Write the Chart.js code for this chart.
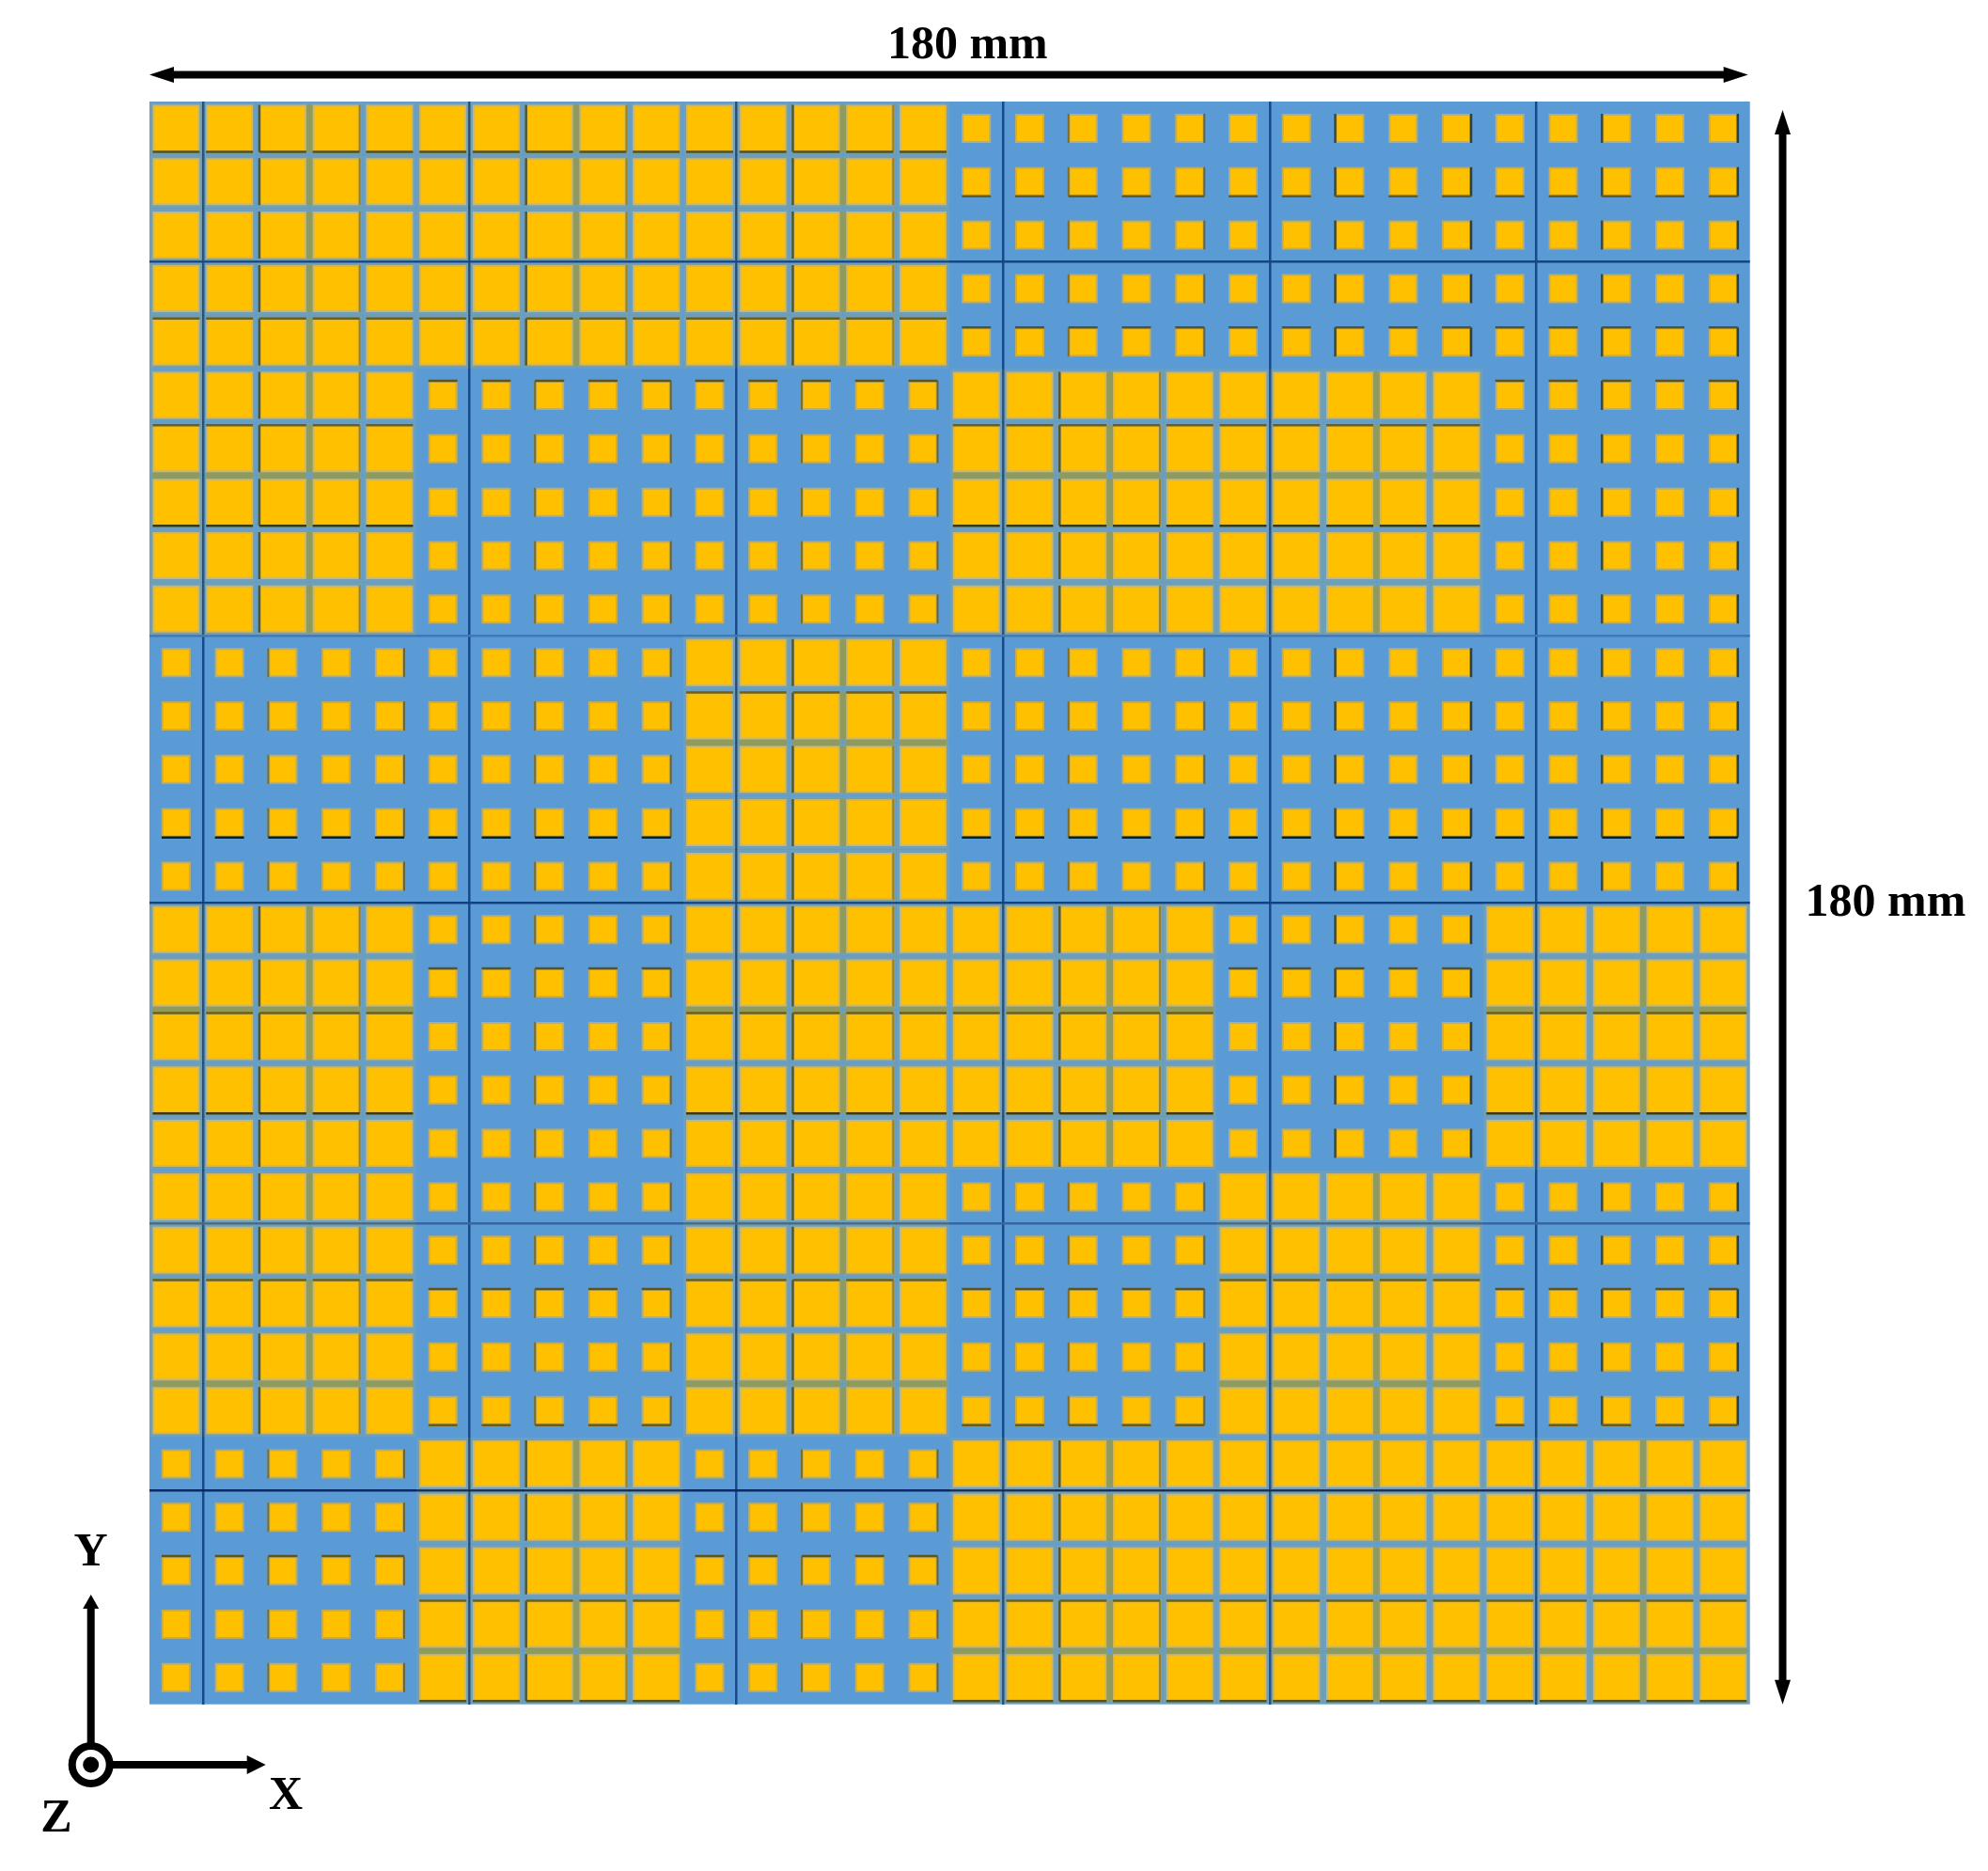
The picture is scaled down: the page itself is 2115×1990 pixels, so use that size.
<!DOCTYPE html>
<html>
<head>
<meta charset="utf-8">
<title>Coding metasurface layout</title>
<style>
  html, body { margin: 0; padding: 0; background: #fff; }
  canvas { display: block; }
</style>
<script src="https://cdn.jsdelivr.net/npm/chart.js@4/dist/chart.umd.min.js"></script>
</head>
<body>
<canvas id="layoutChart" width="2115" height="1990"></canvas>
<script>
// 1 = large patch, 0 = small patch, top row first
const cellRows = [
  '111111111111111000000000000000',
  '111111111111111000000000000000',
  '111111111111111000000000000000',
  '111111111111111000000000000000',
  '111111111111111000000000000000',
  '111110000000000111111111100000',
  '111110000000000111111111100000',
  '111110000000000111111111100000',
  '111110000000000111111111100000',
  '111110000000000111111111100000',
  '000000000011111000000000000000',
  '000000000011111000000000000000',
  '000000000011111000000000000000',
  '000000000011111000000000000000',
  '000000000011111000000000000000',
  '111110000011111111110000011111',
  '111110000011111111110000011111',
  '111110000011111111110000011111',
  '111110000011111111110000011111',
  '111110000011111111110000011111',
  '111110000011111000001111100000',
  '111110000011111000001111100000',
  '111110000011111000001111100000',
  '111110000011111000001111100000',
  '111110000011111000001111100000',
  '000001111100000111111111111111',
  '000001111100000111111111111111',
  '000001111100000111111111111111',
  '000001111100000111111111111111',
  '000001111100000111111111111111'
];

const cellPitch = 6; // mm
const boardSize = 180; // mm

const gridLinesX = [6, 36, 66, 96, 126, 156];
const gridLinesY = [18, 60, 90, 126, 156];
const gridColorsY = ['#17457f', '#3f78b5', '#124080', '#34689f', '#0a2a68'];

// rows where the patch edges come out dark in the picture
const largeTopDark = [4, 6, 11, 17, 22, 28];
const largeBottomDark = [0, 29];
const largeBottomBlack = [7, 18];
const largeOliveGaps = [6, 11, 16, 23, 28];
const smallTopDark = [4, 5, 16, 22, 27];
const smallBottomDark = [1, 24];
const smallBottomBlack = [13];

const BLUE = '#5b9bd5';
const GOLD = '#ffc000';
const LARGE_SIDE = 48;
const SMALL_SIDE = 29;
const MM_PX = 9.46;

const toRadius = side => side / Math.SQRT2;
const center = i => cellPitch * i + cellPitch / 2;

const large = [];
const small = [];
cellRows.forEach((row, r) => {
  row.split('').forEach((c, col) => {
    (c === '1' ? large : small).push({ x: center(col), y: center(r), col: col, row: r });
  });
});

function horizontalEdges(cells, rows, sign, side) {
  return cells.filter(c => rows.includes(c.row))
    .map(c => ({ x: c.x, y: c.y + sign * (side / 2 + 1) / MM_PX }));
}
function verticalEdges(cells, test, sign, side) {
  return cells.filter(test)
    .map(c => ({ x: c.x + sign * (side / 2 + 1) / MM_PX, y: c.y }));
}

function edgeSet(points, color, width, rotation, side) {
  return {
    data: points,
    pointStyle: 'line',
    pointRotation: rotation,
    pointRadius: side / 2 + 1,
    pointBorderColor: color,
    pointBorderWidth: width,
    pointBackgroundColor: color
  };
}

function patchSet(points, fill, border, borderWidth, side) {
  return {
    data: points,
    pointStyle: 'rect',
    pointRadius: toRadius(side),
    pointBackgroundColor: fill,
    pointBorderColor: border,
    pointBorderWidth: borderWidth
  };
}

// olive gap between column 2|3 of each block and under some rows
const oliveColGaps = large
  .filter(c => c.col % 5 === 2)
  .map(c => ({ x: c.x + cellPitch / 2, y: c.y }));
const oliveRowGaps = large
  .filter(c => largeOliveGaps.includes(c.row))
  .map(c => ({ x: c.x, y: c.y + cellPitch / 2 }));

const datasets = [
  edgeSet(horizontalEdges(large, largeBottomBlack, 1, LARGE_SIDE), '#3a3a0c', 2.5, 0, LARGE_SIDE),
  edgeSet(horizontalEdges(small, smallBottomBlack, 1, SMALL_SIDE), '#10201c', 2.5, 0, SMALL_SIDE),
  edgeSet(horizontalEdges(large, largeBottomDark, 1, LARGE_SIDE), '#5c5210', 2.5, 0, LARGE_SIDE),
  edgeSet(horizontalEdges(small, smallBottomDark, 1, SMALL_SIDE), '#6a5c18', 2.5, 0, SMALL_SIDE),
  edgeSet(horizontalEdges(large, largeTopDark, -1, LARGE_SIDE), '#6e6010', 2.5, 0, LARGE_SIDE),
  edgeSet(horizontalEdges(small, smallTopDark, -1, SMALL_SIDE), '#5c5420', 2.5, 0, SMALL_SIDE),
  edgeSet(verticalEdges(large, c => c.col % 5 === 2 && c.col < 20, -1, LARGE_SIDE), '#55562a', 2.5, 90, LARGE_SIDE),
  edgeSet(verticalEdges(large, c => c.col % 5 === 3 && c.col < 20, 1, LARGE_SIDE), '#9a8220', 2, 90, LARGE_SIDE),
  edgeSet(verticalEdges(small, c => c.col % 5 === 2 && c.col < 20, -1, SMALL_SIDE), '#7d6c24', 2, 90, SMALL_SIDE),
  edgeSet(verticalEdges(small, c => c.col % 5 === 4 && c.col < 20, 1, SMALL_SIDE), '#6a6430', 2, 90, SMALL_SIDE),
  edgeSet(verticalEdges(small, c => c.col % 5 === 2 && c.col >= 20, -1, SMALL_SIDE), '#45482a', 2.5, 90, SMALL_SIDE),
  edgeSet(verticalEdges(small, c => c.col % 5 === 4 && c.col >= 20, 1, SMALL_SIDE), '#35402e', 2.5, 90, SMALL_SIDE),
  patchSet(large, GOLD, '#cdb765', 2, LARGE_SIDE),
  patchSet(small, GOLD, '#c2ad5c', 2, SMALL_SIDE),
  edgeSet(oliveColGaps, '#8f9a5e', 7, 90, LARGE_SIDE),
  edgeSet(oliveRowGaps, '#8f9a5e', 7, 0, LARGE_SIDE),
  patchSet(large, 'rgba(0,0,0,0)', 'rgba(255,192,0,0.13)', 7, LARGE_SIDE + 1)
];

function arrowHead(ctx, x, y, dirX, dirY, length, halfWidth) {
  ctx.beginPath();
  ctx.moveTo(x, y);
  ctx.lineTo(x - dirX * length + dirY * halfWidth, y - dirY * length + dirX * halfWidth);
  ctx.lineTo(x - dirX * length - dirY * halfWidth, y - dirY * length - dirX * halfWidth);
  ctx.closePath();
  ctx.fill();
}

function drawArrow(ctx, x1, y1, x2, y2, width, length, halfWidth, both) {
  const d = Math.hypot(x2 - x1, y2 - y1);
  const ux = (x2 - x1) / d;
  const uy = (y2 - y1) / d;
  ctx.lineWidth = width;
  ctx.beginPath();
  ctx.moveTo(x1 + (both ? ux * length * 0.8 : 0), y1 + (both ? uy * length * 0.8 : 0));
  ctx.lineTo(x2 - ux * length * 0.8, y2 - uy * length * 0.8);
  ctx.stroke();
  arrowHead(ctx, x2, y2, ux, uy, length, halfWidth);
  if (both) arrowHead(ctx, x1, y1, -ux, -uy, length, halfWidth);
}

const boardBackground = {
  id: 'boardBackground',
  beforeDraw(chart) {
    const { ctx, chartArea: a } = chart;
    ctx.save();
    ctx.fillStyle = BLUE;
    ctx.fillRect(a.left, a.top, a.right - a.left, a.bottom - a.top);
    ctx.restore();
  }
};

const dimensions = {
  id: 'dimensions',
  afterDraw(chart) {
    const { ctx, scales } = chart;
    const left = scales.x.getPixelForValue(0);
    const right = scales.x.getPixelForValue(boardSize);
    const top = scales.y.getPixelForValue(0);
    const bottom = scales.y.getPixelForValue(boardSize);
    const midX = scales.x.getPixelForValue(boardSize / 2);
    const midY = scales.y.getPixelForValue(boardSize / 2);
    const ox = 96.7, oy = 1877;

    ctx.save();
    ctx.fillStyle = '#000';
    ctx.strokeStyle = '#000';

    drawArrow(ctx, left, 79.5, right - 2, 79.5, 8, 26, 8.5, true);
    drawArrow(ctx, 1896.5, top + 9, 1896.5, bottom, 8, 26, 8.5, true);

    drawArrow(ctx, ox, oy - 20, ox, 1696, 8, 15, 8.5, false);
    drawArrow(ctx, ox + 20, oy, 282.7, oy, 8, 20, 10, false);
    ctx.lineWidth = 8;
    ctx.beginPath();
    ctx.arc(ox, oy, 20, 0, Math.PI * 2);
    ctx.stroke();
    ctx.beginPath();
    ctx.arc(ox, oy, 8.5, 0, Math.PI * 2);
    ctx.fill();

    ctx.font = 'bold 50px "Liberation Serif"';
    ctx.textBaseline = 'middle';
    ctx.textAlign = 'center';
    ctx.fillText('180 mm', midX + 19, 49);
    ctx.fillText('180 mm', 2006, midY + 1);
    ctx.fillText('Y', 96.5, 1652);
    ctx.fillText('X', 304, 1911);
    ctx.fillText('Z', 60, 1935);
    ctx.restore();
  }
};

new Chart(document.getElementById('layoutChart').getContext('2d'), {
  type: 'scatter',
  data: { datasets: datasets },
  options: {
    responsive: false,
    animation: false,
    devicePixelRatio: 1,
    layout: { padding: { left: 159, right: 253.3, top: 108, bottom: 177.3 } },
    plugins: { legend: { display: false }, tooltip: { enabled: false } },
    scales: {
      x: {
        type: 'linear',
        min: 0,
        max: boardSize,
        afterBuildTicks: scale => { scale.ticks = gridLinesX.map(v => ({ value: v })); },
        ticks: { display: false },
        border: { display: false },
        grid: { color: '#18498a', lineWidth: 2.5, drawTicks: false }
      },
      y: {
        type: 'linear',
        reverse: true,
        min: 0,
        max: boardSize,
        afterBuildTicks: scale => { scale.ticks = gridLinesY.map(v => ({ value: v })); },
        ticks: { display: false },
        border: { display: false },
        grid: {
          color: ctx => gridColorsY[gridLinesY.indexOf(ctx.tick.value)],
          lineWidth: 2.5,
          drawTicks: false
        }
      }
    }
  },
  plugins: [boardBackground, dimensions]
});
</script>
</body>
</html>
